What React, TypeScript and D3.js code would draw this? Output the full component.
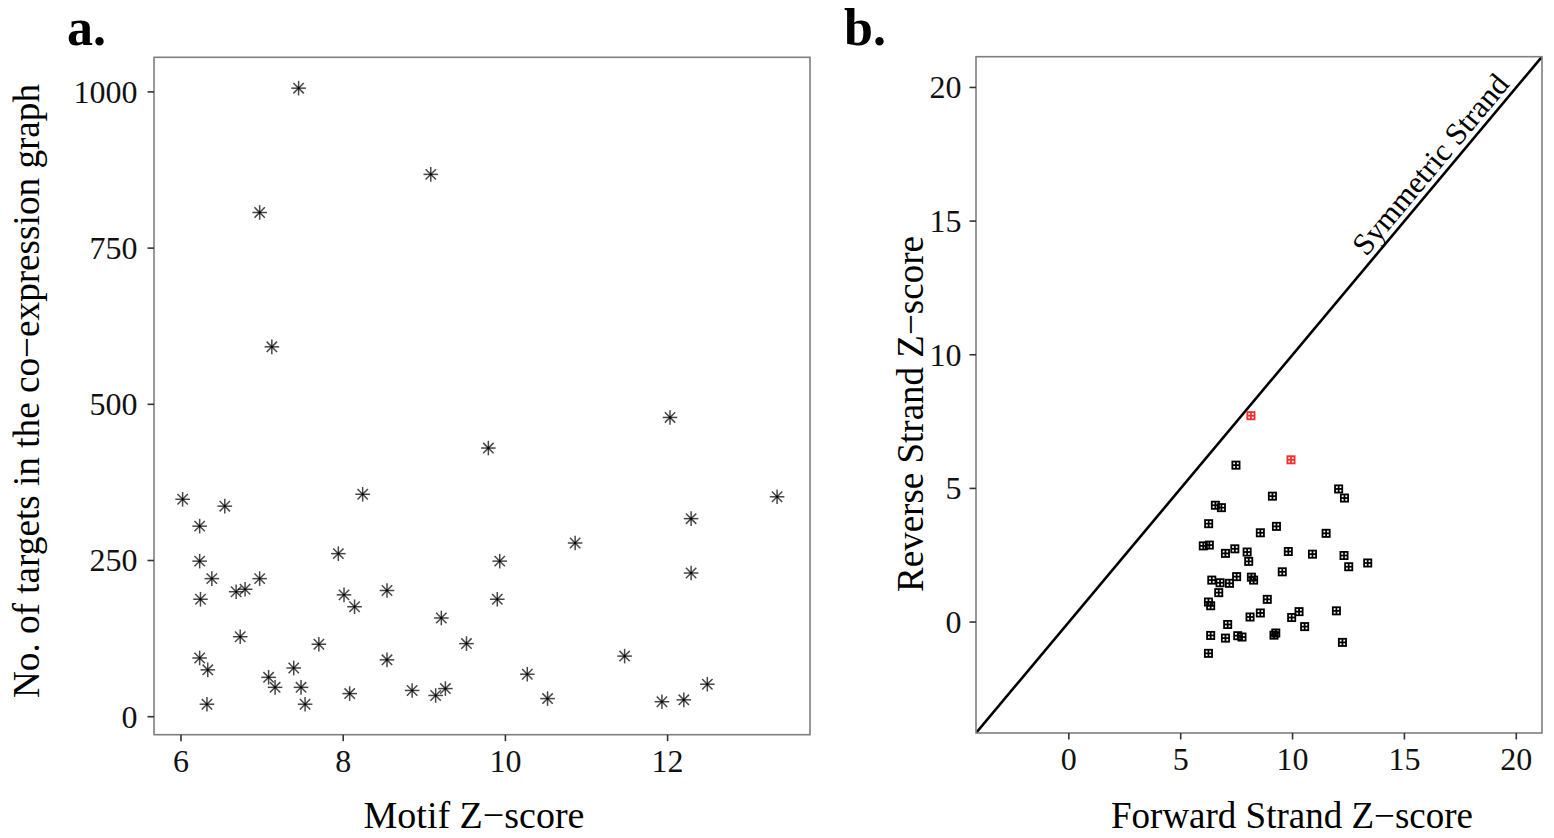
import React from "react";
import * as d3 from "d3";

// ---------- Data ----------
// Panel a: Motif Z-score vs number of targets in the co-expression graph
const motifZ = [
  7.45, 9.08, 6.97, 7.12, 6.02, 6.54, 6.23, 8.24, 6.23, 7.94, 6.38, 6.97, 6.68, 6.79,
  6.24, 8.01, 8.14, 8.54, 9.21, 6.73, 7.7, 6.23, 6.33, 8.54, 7.39, 7.08, 7.16, 7.48,
  8.08, 8.85, 9.14, 9.26, 6.32, 7.53, 12.03, 9.79, 13.35, 12.29, 10.86, 9.93, 12.29,
  9.9, 9.52, 11.47, 10.27, 12.49, 10.52, 11.93, 12.2,
];
const nTargets = [
  1006, 868, 807, 592, 348, 337, 305, 356, 249, 261, 221, 221, 200, 204,
  188, 195, 176, 202, 158, 128, 116, 94, 75, 91, 78, 63, 47, 47,
  37, 42, 34, 45, 20, 20, 479, 430, 352, 317, 278, 249, 230,
  188, 117, 97, 68, 52, 29, 24, 27,
];
const aXTicks = [6, 8, 10, 12];
const aYTicks = [0, 250, 500, 750, 1000];
const aXDomain = [5.667, 13.756];
const aYDomain = [-28.8, 1055.4];

// Panel b: Forward vs Reverse strand Z-scores
const forwardZ = [
  7.47, 12.06, 12.32, 9.1, 6.55, 6.82, 6.25, 9.28, 8.56, 11.5, 6.01, 6.28, 7.42, 7.0,
  7.97, 8.04, 9.81, 10.89, 12.3, 12.51, 13.36, 9.54, 6.39, 6.76, 7.18, 7.5, 8.16, 8.26,
  6.7, 6.24, 6.34, 8.87, 8.1, 8.56, 10.29, 9.96, 11.96, 10.54, 7.1, 6.34, 7.0, 7.55,
  7.74, 9.17, 9.25, 12.23, 6.24,
];
const reverseZ = [
  5.87, 4.98, 4.64, 4.71, 4.37, 4.28, 3.68, 3.58, 3.34, 3.32, 2.85, 2.88, 2.74, 2.57,
  2.62, 2.27, 2.64, 2.54, 2.49, 2.07, 2.21, 1.88, 1.57, 1.47, 1.45, 1.7, 1.68, 1.57,
  1.1, 0.75, 0.61, 0.85, 0.19, 0.34, 0.39, 0.17, 0.42, -0.17, -0.09, -0.5, -0.6, -0.51,
  -0.56, -0.49, -0.41, -0.76, -1.17,
];
const highlightForward = [8.14, 9.93];
const highlightReverse = [7.72, 6.07];
const bTicks = [0, 5, 10, 15, 20];
const bDomain = [-4.15, 21.15];
const diagonalLabel = "Symmetric Strand";

const FONT = "'Liberation Serif', 'Times New Roman', Times, serif";

function Asterisk({ cx, cy }: { cx: number; cy: number }) {
  const r = 7.3;
  const d = 5.2;
  const segs: [number, number, number, number][] = [
    [cx - r, cy, cx + r, cy],
    [cx, cy - r, cx, cy + r],
    [cx - d, cy - d, cx + d, cy + d],
    [cx - d, cy + d, cx + d, cy - d],
  ];
  return (
    <g>
      {segs.map((s, i) => (
        <line
          key={i}
          x1={s[0]}
          y1={s[1]}
          x2={s[2]}
          y2={s[3]}
          stroke="#000"
          strokeOpacity={0.72}
          strokeWidth={1.5}
        />
      ))}
    </g>
  );
}

function SquarePlus({ cx, cy, color }: { cx: number; cy: number; color: string }) {
  const h = 3.6;
  return (
    <g stroke={color} strokeWidth={1.8} fill="none">
      <rect x={cx - h} y={cy - h} width={2 * h} height={2 * h} />
      <line x1={cx - h} y1={cy} x2={cx + h} y2={cy} />
      <line x1={cx} y1={cy - h} x2={cx} y2={cy + h} />
    </g>
  );
}

function PanelA() {
  const L = 154, R = 810, T = 57.3, B = 734.7;
  const x = d3.scaleLinear().domain(aXDomain).range([L, R]);
  const y = d3.scaleLinear().domain(aYDomain).range([B, T]);
  return (
    <g>
      <text x={67} y={45} fontFamily={FONT} fontWeight="bold" fontSize={52} fill="#000">
        a.
      </text>
      {motifZ.map((v, i) => (
        <Asterisk key={i} cx={x(v)} cy={y(nTargets[i])} />
      ))}
      <rect x={L} y={T} width={R - L} height={B - T} fill="none" stroke="#7f7f7f" strokeWidth={1.6} />
      {aXTicks.map((t) => (
        <g key={t}>
          <line x1={x(t)} x2={x(t)} y1={B} y2={B + 6.5} stroke="#333" strokeWidth={1.6} />
          <text x={x(t)} y={772} textAnchor="middle" fontFamily={FONT} fontSize={32} fill="#111">
            {t}
          </text>
        </g>
      ))}
      {aYTicks.map((t) => (
        <g key={t}>
          <line x1={L - 6.5} x2={L} y1={y(t)} y2={y(t)} stroke="#333" strokeWidth={1.6} />
          <text x={L - 16.5} y={y(t)} dy="0.34em" textAnchor="end" fontFamily={FONT} fontSize={32} fill="#111">
            {t}
          </text>
        </g>
      ))}
      <text x={474} y={828} textAnchor="middle" fontFamily={FONT} fontSize={38} fill="#000">
        Motif Z−score
      </text>
      <text
        transform={`translate(39, 391) rotate(-90)`}
        textAnchor="middle"
        fontFamily={FONT}
        fontSize={37.2}
        fill="#000"
      >
        No. of targets in the co−expression graph
      </text>
    </g>
  );
}

function PanelB() {
  const L = 976, R = 1542, T = 56.7, B = 733;
  const x = d3.scaleLinear().domain(bDomain).range([L, R]);
  const y = d3.scaleLinear().domain(bDomain).range([B, T]);
  const line = d3.line<number>().x((v) => x(v)).y((v) => y(v));
  const angle = (Math.atan2(y(0) - y(1), x(1) - x(0)) * 180) / Math.PI;
  const labelAt = 19.95;
  return (
    <g>
      <text x={844} y={45} fontFamily={FONT} fontWeight="bold" fontSize={52} fill="#000">
        b.
      </text>
      <defs>
        <clipPath id="clipB">
          <rect x={L} y={T} width={R - L} height={B - T} />
        </clipPath>
      </defs>
      <path d={line(bDomain) || ""} stroke="#000" strokeWidth={2.6} fill="none" clipPath="url(#clipB)" />
      <text
        transform={`translate(${x(labelAt)}, ${y(labelAt)}) rotate(${-angle})`}
        y={-6}
        textAnchor="end"
        fontFamily={FONT}
        fontSize={31}
        fill="#000"
      >
        {diagonalLabel}
      </text>
      {forwardZ.map((v, i) => (
        <SquarePlus key={i} cx={x(v)} cy={y(reverseZ[i])} color="#000" />
      ))}
      {highlightForward.map((v, i) => (
        <SquarePlus key={"r" + i} cx={x(v)} cy={y(highlightReverse[i])} color="#ff2a2a" />
      ))}
      <rect x={L} y={T} width={R - L} height={B - T} fill="none" stroke="#7f7f7f" strokeWidth={1.6} />
      {bTicks.map((t) => (
        <g key={"x" + t}>
          <line x1={x(t)} x2={x(t)} y1={B} y2={B + 6.5} stroke="#333" strokeWidth={1.6} />
          <text x={x(t)} y={770} textAnchor="middle" fontFamily={FONT} fontSize={32} fill="#111">
            {t}
          </text>
        </g>
      ))}
      {bTicks.map((t) => (
        <g key={"y" + t}>
          <line x1={L - 6.5} x2={L} y1={y(t)} y2={y(t)} stroke="#333" strokeWidth={1.6} />
          <text x={L - 14.5} y={y(t)} dy="0.34em" textAnchor="end" fontFamily={FONT} fontSize={32} fill="#111">
            {t}
          </text>
        </g>
      ))}
      <text x={1292} y={828} textAnchor="middle" fontFamily={FONT} fontSize={37} fill="#000">
        Forward Strand Z−score
      </text>
      <text
        transform={`translate(923, 414) rotate(-90)`}
        textAnchor="middle"
        fontFamily={FONT}
        fontSize={37}
        fill="#000"
      >
        Reverse Strand Z−score
      </text>
    </g>
  );
}

export default function App() {
  return (
    <svg
      width={1554}
      height={838}
      viewBox="0 0 1554 838"
      style={{ position: "absolute", left: 0, top: 0, background: "#fff" }}
    >
      <rect x={0} y={0} width={1554} height={838} fill="#fff" />
      <PanelA />
      <PanelB />
    </svg>
  );
}
